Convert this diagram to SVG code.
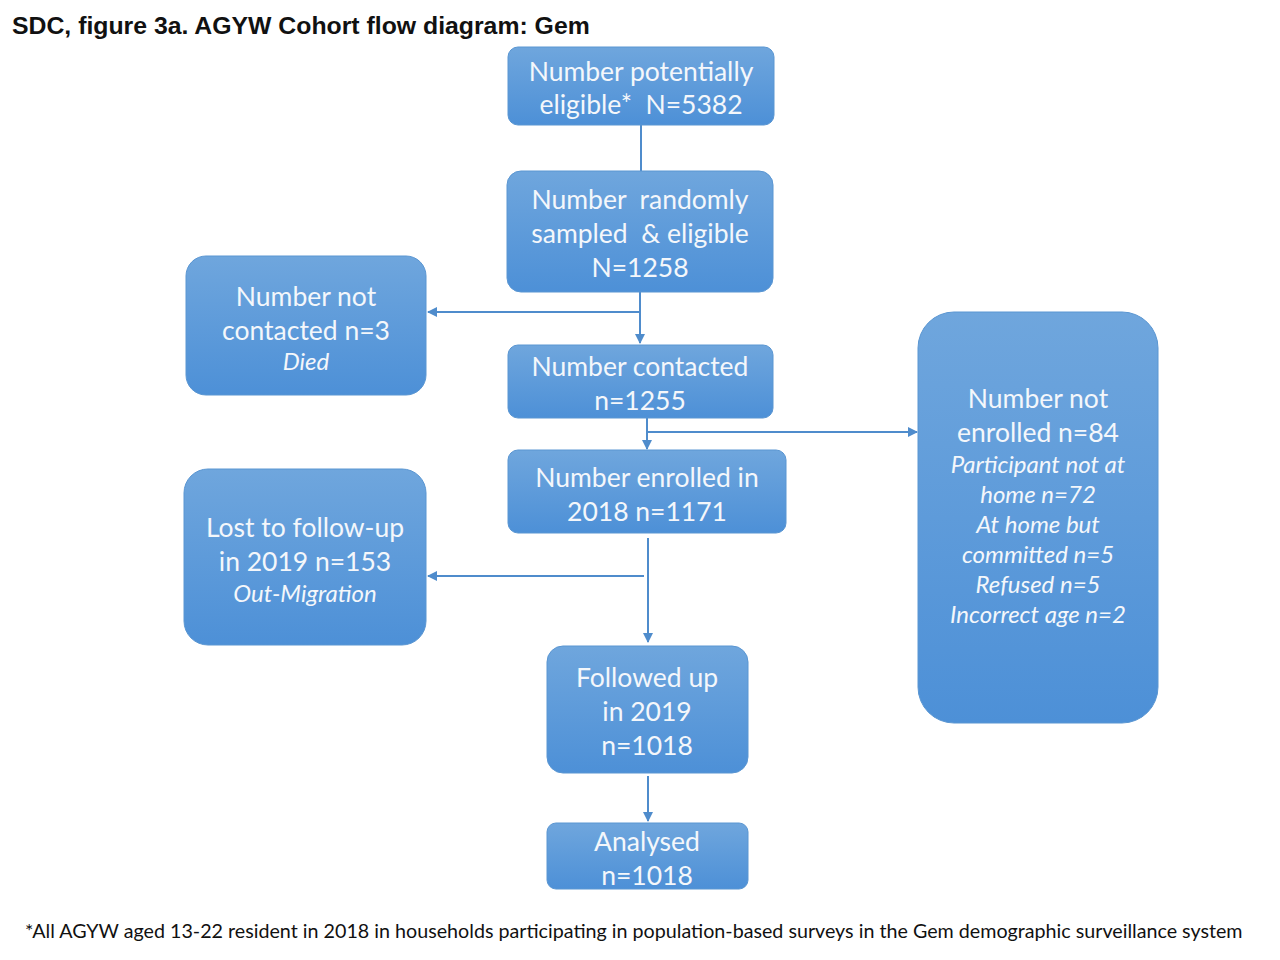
<svg xmlns="http://www.w3.org/2000/svg" width="1280" height="960" viewBox="0 0 1280 960">
<defs>
<linearGradient id="g" x1="0" y1="0" x2="0" y2="1">
<stop offset="0" stop-color="#6fa6dd"/>
<stop offset="1" stop-color="#4d90d7"/>
</linearGradient>
<marker id="ah" viewBox="0 0 10 10" refX="9" refY="5" markerWidth="10" markerHeight="10" markerUnits="userSpaceOnUse" orient="auto">
<path d="M0,0 L10,5 L0,10 Z" fill="#4f8ccc"/>
</marker>
<style>
.box{fill:url(#g);stroke:#5a96d2;stroke-width:1}
.t{font-family:Lato,"Open Sans",sans-serif;font-size:26.5px;fill:#f4f7fb;text-anchor:middle;white-space:pre}
.i{font-family:Lato,"Open Sans",sans-serif;font-size:24px;font-style:italic;fill:#f4f7fb;text-anchor:middle}
.c{stroke:#4f8ccc;stroke-width:2;fill:none}
</style>
</defs>
<rect width="1280" height="960" fill="#ffffff"/>
<text x="12" y="34" font-family="'Liberation Sans',Arial,sans-serif" font-size="24.8" font-weight="bold" fill="#111">SDC, figure 3a. AGYW Cohort flow diagram: Gem</text>

<g id="connectors">
<line class="c" x1="641" y1="125" x2="641" y2="171"/>
<line class="c" x1="640" y1="292" x2="640" y2="343" marker-end="url(#ah)"/>
<line class="c" x1="640" y1="312" x2="428" y2="312" marker-end="url(#ah)"/>
<line class="c" x1="647" y1="418" x2="647" y2="449" marker-end="url(#ah)"/>
<line class="c" x1="647" y1="432" x2="917" y2="432" marker-end="url(#ah)"/>
<line class="c" x1="648" y1="538" x2="648" y2="642" marker-end="url(#ah)"/>
<line class="c" x1="644" y1="576" x2="428" y2="576" marker-end="url(#ah)"/>
<line class="c" x1="648" y1="776" x2="648" y2="821" marker-end="url(#ah)"/>
</g>

<g id="n1">
<rect class="box" x="508" y="47" width="266" height="78" rx="10"/>
<text class="t" x="641" y="81">Number potentially</text>
<text class="t" x="641" y="114">eligible*  N=5382</text>
</g>
<g id="n2">
<rect class="box" x="507" y="171" width="266" height="121" rx="14"/>
<text class="t" x="640" y="209">Number  randomly</text>
<text class="t" x="640" y="243">sampled  &amp; eligible</text>
<text class="t" x="640" y="277">N=1258</text>
</g>
<g id="n3">
<rect class="box" x="186" y="256" width="240" height="139" rx="20"/>
<text class="t" x="306" y="306">Number not</text>
<text class="t" x="306" y="340">contacted n=3</text>
<text class="i" x="306" y="370">Died</text>
</g>
<g id="n4">
<rect class="box" x="508" y="345" width="265" height="73" rx="10"/>
<text class="t" x="640" y="376">Number contacted</text>
<text class="t" x="640" y="410">n=1255</text>
</g>
<g id="n5">
<rect class="box" x="508" y="450" width="278" height="83" rx="10"/>
<text class="t" x="647" y="487">Number enrolled in</text>
<text class="t" x="647" y="521">2018 n=1171</text>
</g>
<g id="n6">
<rect class="box" x="918" y="312" width="240" height="411" rx="36"/>
<text class="t" x="1038" y="408">Number not</text>
<text class="t" x="1038" y="442">enrolled n=84</text>
<text class="i" x="1038" y="473">Participant not at</text>
<text class="i" x="1038" y="503">home n=72</text>
<text class="i" x="1038" y="533">At home but</text>
<text class="i" x="1038" y="563">committed n=5</text>
<text class="i" x="1038" y="593">Refused n=5</text>
<text class="i" x="1038" y="623">Incorrect age n=2</text>
</g>
<g id="n7">
<rect class="box" x="184" y="469" width="242" height="176" rx="24"/>
<text class="t" x="305" y="537">Lost to follow-up</text>
<text class="t" x="305" y="571">in 2019 n=153</text>
<text class="i" x="305" y="602">Out-Migration</text>
</g>
<g id="n8">
<rect class="box" x="547" y="646" width="201" height="127" rx="16"/>
<text class="t" x="647" y="687">Followed up</text>
<text class="t" x="647" y="721">in 2019</text>
<text class="t" x="647" y="755">n=1018</text>
</g>
<g id="n9">
<rect class="box" x="547" y="823" width="201" height="66" rx="9"/>
<text class="t" x="647" y="851">Analysed</text>
<text class="t" x="647" y="885">n=1018</text>
</g>

<text x="25" y="938" font-family="Lato,'Open Sans',sans-serif" font-size="19.7" fill="#111">*All AGYW aged 13-22 resident in 2018 in households participating in population-based surveys in the Gem demographic surveillance system</text>
</svg>
